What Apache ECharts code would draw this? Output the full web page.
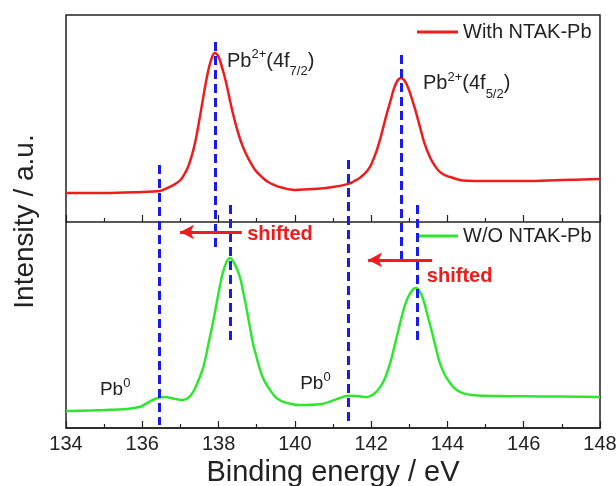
<!DOCTYPE html>
<html>
<head>
<meta charset="utf-8">
<script src="https://cdn.jsdelivr.net/npm/echarts@6/dist/echarts.min.js"></script>
<style>
html, body { margin: 0; padding: 0; background: #fff; }
#main { width: 616px; height: 486px; }
</style>
</head>
<body>
<div id="main"></div>
<script>
// binding energy (eV) / intensity (a.u.)
const energyRed = [134.0, 135.0, 136.0, 136.45, 136.65, 136.85, 137.0, 137.1, 137.2, 137.3,
  137.4, 137.5, 137.6, 137.7, 137.8, 137.9, 138.0, 138.1, 138.2, 138.3,
  138.4, 138.5, 138.6, 138.7, 138.8, 138.9, 139.0, 139.15, 139.3, 139.45,
  139.6, 139.8, 140.0, 140.5, 141.0, 141.4, 141.55, 141.7, 141.85, 141.97,
  142.05, 142.15, 142.25, 142.32, 142.4, 142.5, 142.6, 142.7, 142.78, 142.85,
  142.93, 143.02, 143.15, 143.28, 143.4, 143.54, 143.67, 143.8, 143.95, 144.15,
  144.4, 144.7, 145.0, 146.0, 147.0, 148.0]
const intensityRed = [113.8, 113.8, 114.3, 114.8, 116.2, 118.0, 120.1, 122.8, 126.4, 132.0,
  139.5, 149.5, 160.3, 170.5, 178.0, 181.6, 179.7, 174.0, 167.1, 158.5,
  150.6, 143.8, 138.0, 133.5, 129.8, 126.6, 124.0, 121.3, 119.1, 117.8,
  116.7, 115.8, 115.3, 115.7, 116.7, 118.2, 119.5, 121.1, 123.5, 126.4,
  129.8, 134.6, 140.8, 145.8, 151.5, 157.9, 164.5, 168.5, 169.5, 168.8,
  166.5, 162.2, 154.5, 145.8, 137.8, 131.2, 127.0, 124.0, 122.3, 121.1,
  119.8, 119.6, 119.6, 119.6, 120.1, 120.6]

const energyGreen = [134.0, 135.0, 135.6, 135.95, 136.1, 136.3, 136.45, 136.6, 136.8, 137.05,
  137.2, 137.33, 137.45, 137.6, 137.72, 137.85, 137.95, 138.03, 138.15, 138.3,
  138.42, 138.56, 138.65, 138.74, 138.82, 138.9, 139.0, 139.09, 139.2, 139.35,
  139.5, 139.65, 139.85, 140.14, 140.66, 141.1, 141.4, 141.6, 141.9, 142.1,
  142.24, 142.37, 142.5, 142.63, 142.76, 142.87, 142.97, 143.08, 143.18, 143.28,
  143.37, 143.48, 143.6, 143.7, 143.8, 143.93, 144.07, 144.2, 144.4, 144.7,
  145.3, 146.5, 148.0]
const intensityGreen = [8.2, 8.7, 9.2, 10.3, 11.8, 13.8, 14.8, 15.0, 14.3, 13.6,
  14.5, 17.4, 22.0, 29.5, 39.5, 50.8, 60.5, 68.3, 77.5, 82.3,
  79.5, 73.1, 65.5, 57.1, 49.0, 41.2, 34.0, 28.1, 22.8, 18.4,
  14.8, 13.0, 11.9, 11.1, 11.5, 14.0, 15.6, 15.5, 15.0, 16.9,
  19.9, 24.5, 31.5, 41.0, 50.8, 58.5, 63.4, 66.8, 67.8, 66.0,
  62.0, 54.5, 46.0, 38.5, 31.5, 25.8, 21.8, 19.0, 16.9, 15.9,
  15.5, 15.3, 15.0]

// blue dashed guide lines: energy, upper end, lower end
const guideEnergy = [136.45, 137.9, 138.3, 141.4, 142.8, 143.2]
const guideTop = [127.4, 186.9, 108.0, 129.8, 180.6, 108.0]
const guideBottom = [1.5, 85.2, 41.2, 1.5, 79.4, 42.6]

const xMin = 134
const xMax = 148

var font = "'Liberation Sans', Arial, sans-serif"
var ink = '#222'
var red = '#ee1c1c'
var green = '#2fe62f'
var blue = '#1a1aee'

var myChart = echarts.init(document.getElementById('main'))

function pairs (xs, ys) {
  return xs.map(function (x, i) { return [x, ys[i]] })
}

// rich text styles for the peak labels
function richPb (size, small) {
  return {
    m: { fontSize: size, lineHeight: 40, verticalAlign: 'middle', color: ink, fontFamily: font },
    sup: { fontSize: small, lineHeight: small, verticalAlign: 'top', padding: [7, 0, 0, 0], color: ink, fontFamily: font },
    sub: { fontSize: small, lineHeight: small, verticalAlign: 'bottom', padding: [0, 0, 3, 0], color: ink, fontFamily: font }
  }
}

function textPoint (x, y, text, style) {
  return {
    coord: [x, y],
    symbolSize: 0,
    label: Object.assign({ show: true, position: 'right', distance: 0, formatter: text }, style)
  }
}

var tickStyle = {
  axisLine: { show: true, onZero: false, lineStyle: { color: ink, width: 1.5 } },
  axisTick: { show: true, inside: true, length: 7, lineStyle: { color: ink, width: 1.2 } },
  minorTick: { show: true, splitNumber: 2, length: 4, lineStyle: { color: ink, width: 1.2 } },
  splitLine: { show: false },
  minorSplitLine: { show: false }
}

var option = {
  animation: false,
  backgroundColor: '#fff',
  textStyle: { fontFamily: font },
  grid: [
    { left: 66, right: 16, top: 15, bottom: 58, outerBoundsMode: 'none', containLabel: false, show: true, borderColor: ink, borderWidth: 1.5 },
    { left: 66, right: 16, top: 15, height: 207, outerBoundsMode: 'none', containLabel: false }
  ],
  legend: [
    {
      data: ['With NTAK-Pb'], left: 417, top: 22, padding: 0,
      icon: 'rect', itemWidth: 41, itemHeight: 3, selectedMode: false,
      textStyle: { fontSize: 20, color: ink, fontFamily: font }
    },
    {
      data: ['W/O NTAK-Pb'], left: 417, top: 226, padding: 0,
      icon: 'rect', itemWidth: 41, itemHeight: 3, selectedMode: false,
      textStyle: { fontSize: 20, color: ink, fontFamily: font }
    }
  ],
  xAxis: [
    Object.assign({
      type: 'value', gridIndex: 0, min: xMin, max: xMax, interval: 2,
      name: 'Binding energy / eV', nameLocation: 'middle', nameGap: 28,
      nameTextStyle: { fontSize: 29, color: ink, fontFamily: font },
      axisLabel: { fontSize: 20, color: ink, margin: 6, fontFamily: font }
    }, tickStyle),
    Object.assign({
      type: 'value', gridIndex: 1, min: xMin, max: xMax, interval: 2,
      axisLabel: { show: false }
    }, tickStyle)
  ],
  yAxis: [
    {
      type: 'value', gridIndex: 0, min: 0, max: 200,
      name: 'Intensity / a.u.', nameLocation: 'middle', nameGap: 27,
      nameTextStyle: { fontSize: 28, color: ink, fontFamily: font },
      axisLine: { show: false }, axisTick: { show: false },
      axisLabel: { show: false }, splitLine: { show: false }
    },
    {
      type: 'value', gridIndex: 1, min: 0, max: 1, show: false
    }
  ],
  series: [
    {
      name: 'With NTAK-Pb',
      type: 'line',
      data: pairs(energyRed, intensityRed),
      smooth: 0.4,
      showSymbol: false,
      color: red,
      lineStyle: { color: red, width: 2.5 }
    },
    {
      name: 'W/O NTAK-Pb',
      type: 'line',
      data: pairs(energyGreen, intensityGreen),
      smooth: 0.4,
      showSymbol: false,
      color: green,
      lineStyle: { color: green, width: 2.5 }
    },
    {
      // dashed guides
      name: 'guides',
      type: 'line',
      data: [],
      markLine: {
        silent: true,
        symbol: ['none', 'none'],
        label: { show: false },
        lineStyle: { color: blue, width: 3, type: [9, 5] },
        data: guideEnergy.map(function (x, i) {
          return [{ coord: [x, guideTop[i]] }, { coord: [x, guideBottom[i]] }]
        })
      }
    },
    {
      // shift arrows
      name: 'arrows',
      type: 'line',
      data: [],
      markLine: {
        silent: true,
        symbol: ['none', 'arrow'],
        symbolSize: [11, 14],
        label: { show: false },
        lineStyle: { color: red, width: 3, type: 'solid' },
        data: [
          [{ coord: [138.61, 94.9] }, { coord: [136.99, 94.9] }],
          [{ coord: [143.6, 81.4] }, { coord: [141.92, 81.4] }]
        ]
      }
    },
    {
      // text labels
      name: 'labels',
      type: 'line',
      data: [],
      markPoint: {
        silent: true,
        symbol: 'circle',
        symbolSize: 0,
        data: [
          textPoint(138.22, 177.7, '{m|Pb}{sup|2+}{m|(4f}{sub|7/2}{m|)}', { rich: richPb(20, 13) }),
          textPoint(143.36, 166.6, '{m|Pb}{sup|2+}{m|(4f}{sub|5/2}{m|)}', { rich: richPb(20, 13) }),
          textPoint(134.89, 18.4, '{m|Pb}{sup|0}', { rich: richPb(19, 13) }),
          textPoint(140.14, 21.3, '{m|Pb}{sup|0}', { rich: richPb(19, 13) }),
          textPoint(138.75, 93.5, 'shifted', { fontSize: 20, fontWeight: 'bold', color: red, fontFamily: font }),
          textPoint(143.46, 73.6, 'shifted', { fontSize: 20, fontWeight: 'bold', color: red, fontFamily: font })
        ]
      }
    }
  ]
}

myChart.setOption(option)
</script>
</body>
</html>
